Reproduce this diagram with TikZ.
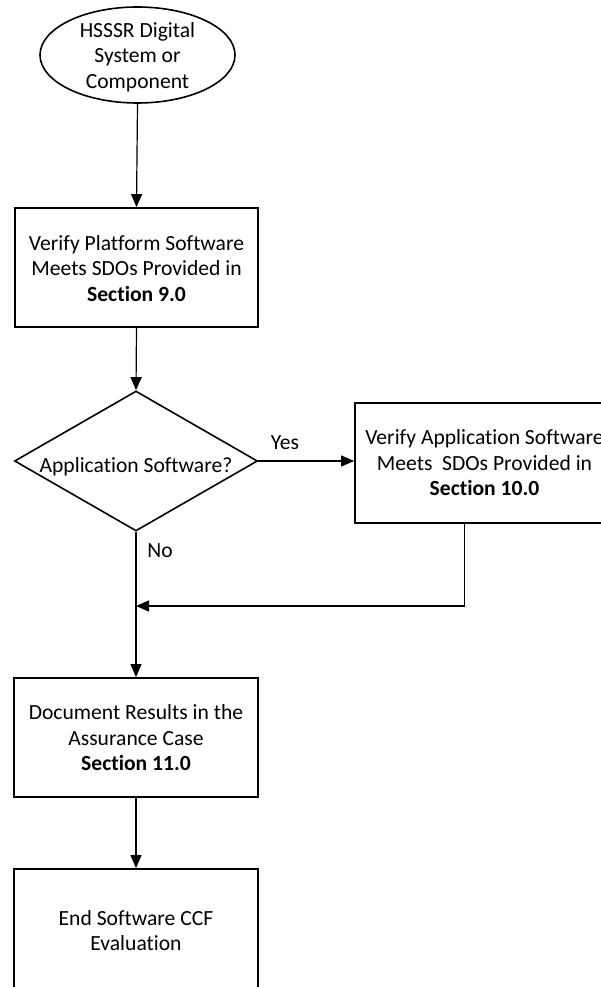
\documentclass[tikz,border=0pt]{standalone}
\usepackage{fontspec}
\setmainfont{Carlito}[Ligatures=NoCommon]
\usetikzlibrary{shapes.geometric,arrows.meta,calc}

\tikzset{
  txt/.style={font=\fontsize{21.6}{25.5}\selectfont, align=center, inner sep=0pt},
  stepbox/.style={draw, line width=1.8pt, rectangle, inner sep=0pt},
  terminal/.style={draw, line width=1.6pt, ellipse, inner sep=0pt},
  decision/.style={draw, line width=1.6pt, diamond, inner sep=0pt},
  flow/.style={line width=1.2pt, -{Triangle[length=13pt,width=11pt]}},
  plain/.style={line width=1.2pt}
}

\begin{document}
\begin{tikzpicture}[x=1pt, y=-1pt]
  \useasboundingbox (0,0) rectangle (601,987);
  \fill[white] (0,0) rectangle (601,987);
  \clip (0,0) rectangle (601,987);

  % start terminal
  \node[terminal, minimum width=195pt, minimum height=96pt] (start) at (137.5,55) {};
  \node[txt] (starttxt) at (137.5,57) {HSSSR Digital\\System or\\Component};

  % platform software check
  \node[stepbox, minimum width=243pt, minimum height=119pt] (plat) at (136.5,267.5) {};
  \node[txt] (plattxt) at (136.5,268.5) {Verify Platform Software\\Meets SDOs Provided in\\\textbf{Section 9.0}};

  % decision
  \node[decision, minimum width=243pt, minimum height=140pt] (dec) at (136,461) {};
  \node[txt] (dectxt) at (136,467) {Application Software?};

  % application software check
  \node[stepbox, minimum width=259pt, minimum height=120pt] (app) at (484.5,463) {};
  \node[txt] (apptxt) at (484.5,463) {Verify Application Software\\Meets~ SDOs Provided in\\\textbf{Section 10.0}};

  % documentation
  \node[stepbox, minimum width=244pt, minimum height=119pt] (doc) at (136,737.5) {};
  \node[txt] (doctxt) at (136,738) {Document Results in the\\Assurance Case\\\textbf{Section 11.0}};

  % end
  \node[stepbox, minimum width=244pt, minimum height=119pt] (fin) at (136,928.5) {};
  \node[txt] (fintxt) at (136,930.5) {End Software CCF\\Evaluation};

  % connectors
  \draw[flow] (start.south) -- (plat.north);
  \draw[flow] (plat.south) -- (dec.north);
  \draw[flow] (dec.east) -- (app.west |- dec.east);
  \draw[flow] (dec.south) -- (doc.north);
  \coordinate (merge) at (136,606);
  \draw[flow] ([xshift=110pt]app.south west) |- (merge);
  \draw[flow] (doc.south) -- (fin.north);

  % branch labels
  \node[txt] (yes) at (285,443) {Yes};
  \node[txt] (no) at (160,551) {No};
\end{tikzpicture}
\end{document}
